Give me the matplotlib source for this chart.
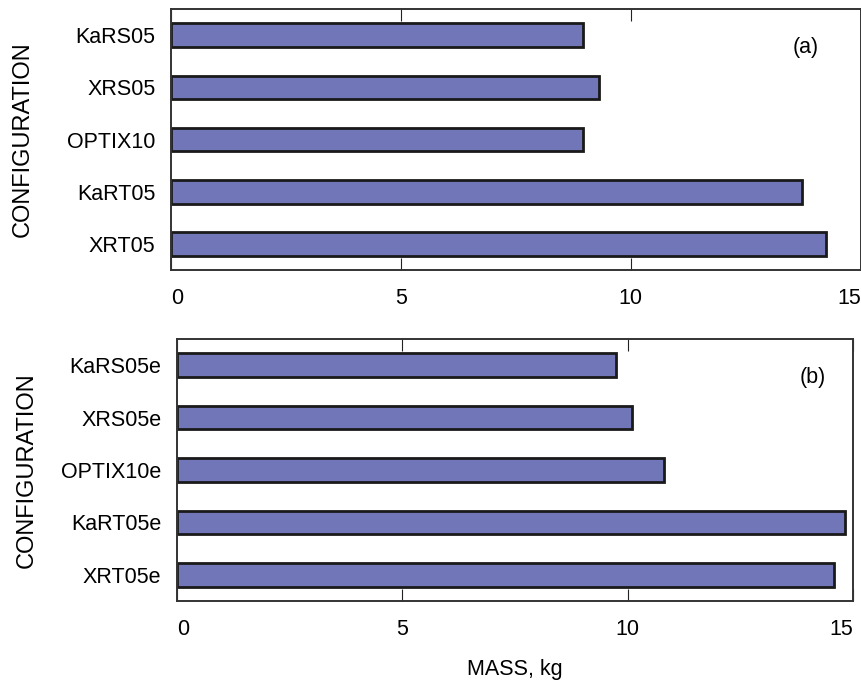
import matplotlib
matplotlib.use("Agg")
import matplotlib.pyplot as plt

plt.rcParams['font.family'] = ['Liberation Sans', 'DejaVu Sans']

# mass per configuration, listed top to bottom
configs_a = ['KaRS05', 'XRS05', 'OPTIX10', 'KaRT05', 'XRT05']
mass_a = [8.97, 9.32, 8.97, 13.72, 14.24]

configs_b = ['KaRS05e', 'XRS05e', 'OPTIX10e', 'KaRT05e', 'XRT05e']
mass_b = [9.74, 10.09, 10.80, 14.81, 14.58]

xticks = [0, 5, 10, 15]
bar_color = '#7076b8'
fsize = 15.5

fig = plt.figure(figsize=(8.62, 6.82), dpi=100)
ax1 = fig.add_axes([0.198, 0.604, 0.8005, 0.3827])
ax2 = fig.add_axes([0.205, 0.1188, 0.785, 0.384])


def draw_panel(ax, names, values, tag, ylab_x):
    ypos = list(range(len(names)))[::-1]
    ax.barh(ypos, values, height=0.45, color=bar_color,
            edgecolor='#1a1a1a', linewidth=2.0, zorder=2)
    ax.set_ylim(-0.5, len(names) - 0.5)
    ax.set_xlim(0, 15)
    ax.set_yticks(ypos)
    ax.set_yticklabels(names, fontsize=fsize)
    ax.tick_params(axis='y', length=0, pad=11)
    ax.set_xticks(xticks)
    ax.set_xticklabels([str(t) for t in xticks], fontsize=fsize)
    ax.tick_params(axis='x', direction='in', length=8.5, width=0.8,
                   top=True, pad=13, colors='#222222', labelcolor='black')
    labels = ax.get_xticklabels()
    labels[0].set_ha('left')
    labels[-1].set_ha('right')
    for sp in ax.spines.values():
        sp.set_linewidth(1.4)
        sp.set_color('#333333')
    ax.set_ylabel('CONFIGURATION', fontsize=17, va='center')
    ax.yaxis.set_label_coords(ylab_x, 0.5)
    ax.text(0.92, 0.852, tag, transform=ax.transAxes, fontsize=fsize,
            ha='center', va='center')


draw_panel(ax1, configs_a, mass_a, '(a)', -0.215)
draw_panel(ax2, configs_b, mass_b, '(b)', -0.221)
ax2.texts[0].set_x(0.94)
ax2.set_xlabel('MASS, kg', fontsize=fsize, labelpad=14)

fig.savefig('out.png', dpi=100)
